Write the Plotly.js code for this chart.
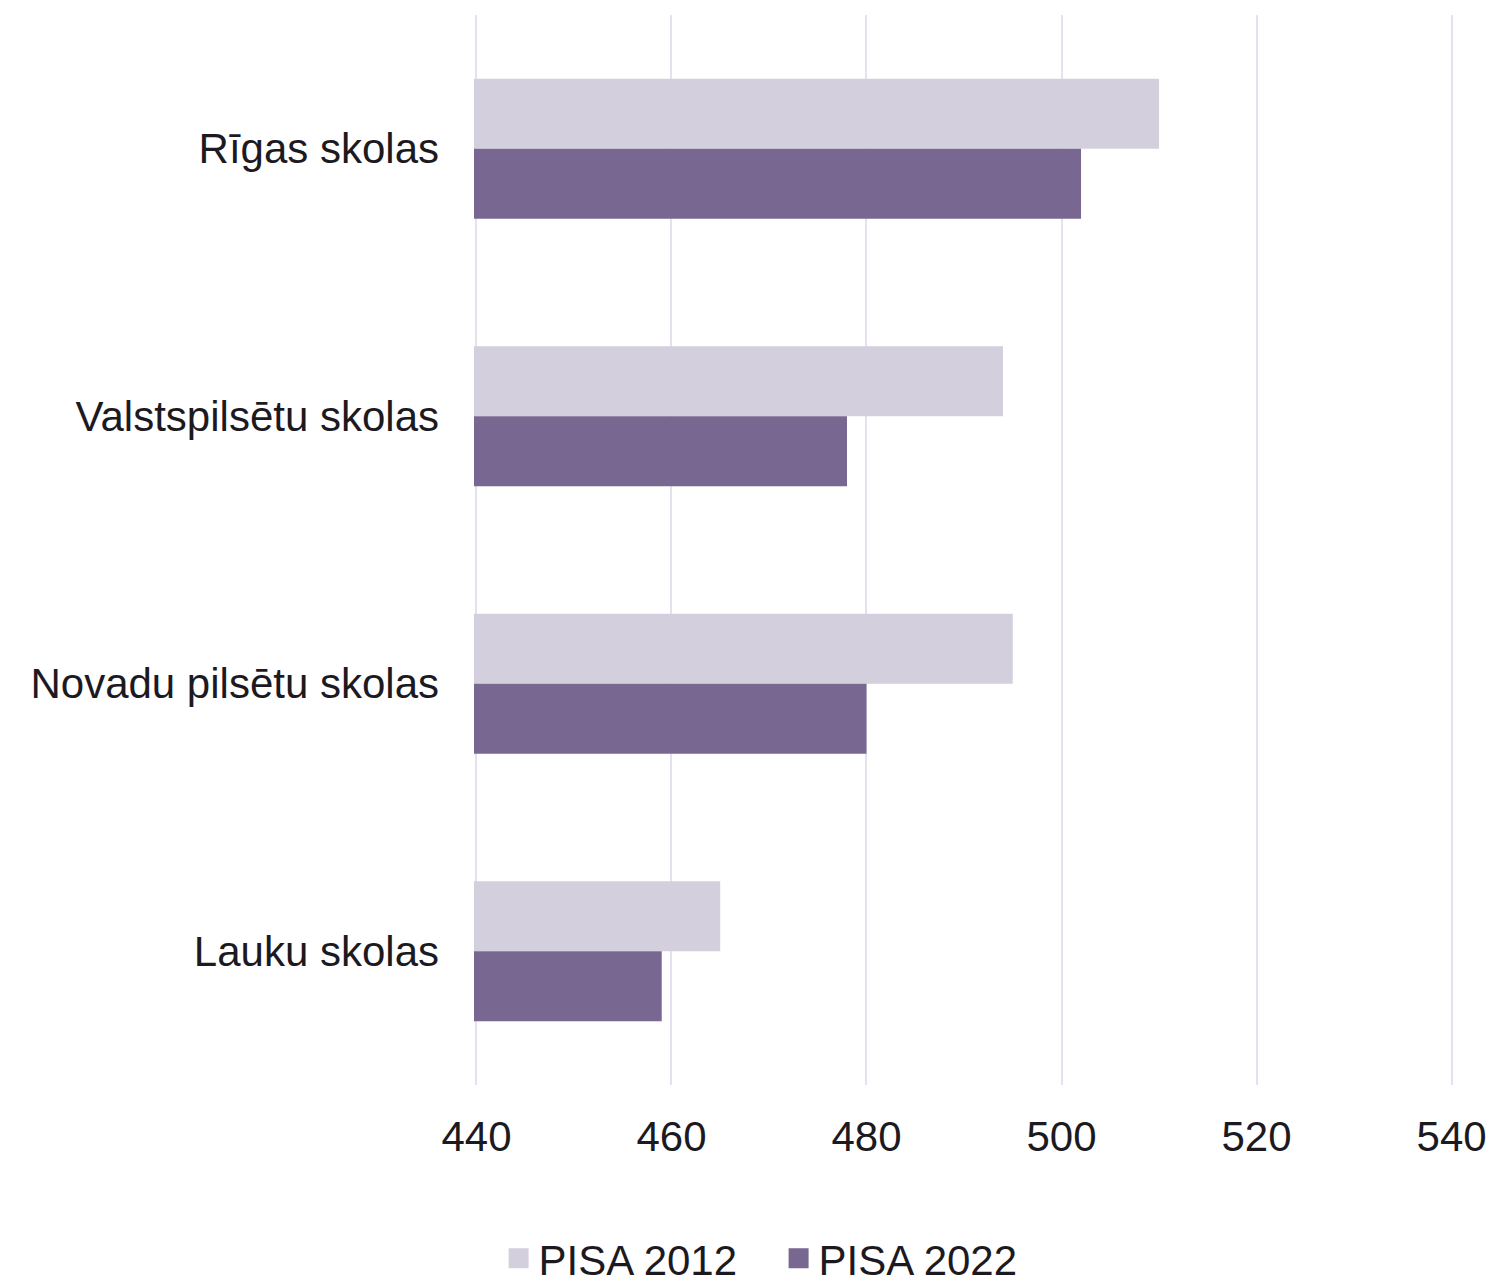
<!DOCTYPE html>
<html>
<head>
<meta charset="utf-8">
<script src="https://cdn.plot.ly/plotly-3.0.1.min.js"></script>
<style>
html,body{margin:0;padding:0;background:#fff;}
#chart{width:1495px;height:1279px;}
</style>
</head>
<body>
<div id="chart"></div>
<script>
const categories = ["Rīgas skolas", "Valstspilsētu skolas", "Novadu pilsētu skolas", "Lauku skolas"];
const pisa2012 = [510, 494, 495, 465];
const pisa2022 = [502, 478, 480, 459];
const seriesNames = ["PISA 2012", "PISA 2022"];
const seriesColors = ["#d3cfdd", "#786790"];
const xTicks = [440, 460, 480, 500, 520, 540];

const font = "Liberation Sans, Arial, sans-serif";
const textColor = "#1c1a1f";

const traces = [
  {type: "bar", orientation: "h", name: seriesNames[0], y: categories, x: pisa2012,
   marker: {color: seriesColors[0]}, showlegend: false, hoverinfo: "x+name"},
  {type: "bar", orientation: "h", name: seriesNames[1], y: categories, x: pisa2022,
   marker: {color: seriesColors[1]}, showlegend: false, hoverinfo: "x+name"},
  // legend-only entries (no data) to get larger square swatches
  {type: "scatter", mode: "markers", name: seriesNames[0], x: [null], y: [null],
   marker: {symbol: "square", size: 16, color: seriesColors[0], line: {color: seriesColors[0], width: 4}},
   showlegend: true, hoverinfo: "skip"},
  {type: "scatter", mode: "markers", name: seriesNames[1], x: [null], y: [null],
   marker: {symbol: "square", size: 16, color: seriesColors[1], line: {color: seriesColors[1], width: 4}},
   showlegend: true, hoverinfo: "skip"}
];

const layout = {
  width: 1495, height: 1279,
  margin: {l: 474, r: 41, t: 15, b: 194},
  paper_bgcolor: "#fff", plot_bgcolor: "#fff",
  barmode: "group", bargap: 0.476, bargroupgap: 0,
  font: {family: font, color: textColor, size: 42},
  xaxis: {range: [439.75, 540.25], tickvals: xTicks, ticktext: xTicks.map(String),
          showgrid: true, gridcolor: "#e6e1ee", gridwidth: 2, zeroline: false,
          showline: false, ticks: "", ticklabelstandoff: 23,
          tickfont: {family: font, size: 42, color: textColor}},
  yaxis: {autorange: "reversed", showgrid: false, zeroline: false, showline: false,
          ticks: "", ticklabelstandoff: 34,
          tickfont: {family: font, size: 42, color: textColor}},
  showlegend: true,
  legend: {orientation: "h", xref: "container", yref: "container", x: 0.5208, xanchor: "center",
           y: 0.016, yanchor: "middle", traceorder: "normal", tracegroupgap: 0,
           entrywidth: 235, entrywidthmode: "pixels",
           font: {family: font, size: 42, color: textColor}, itemwidth: 30}
};

Plotly.newPlot("chart", traces, layout, {displayModeBar: false, staticPlot: true});
</script>
</body>
</html>
